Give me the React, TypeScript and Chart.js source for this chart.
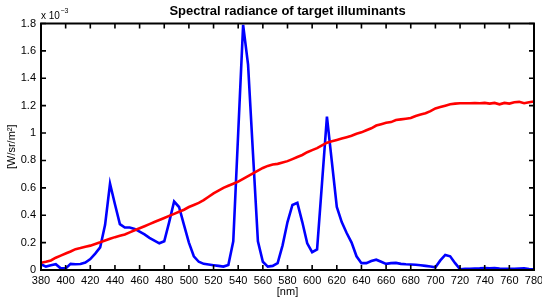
import React, { useEffect, useRef } from "react";
import { Chart, registerables } from "chart.js";

Chart.register(...registerables);

const WAVELENGTHS = [
  380, 384, 388, 392, 396, 400, 404, 408, 412, 416,
  420, 424, 428, 432, 436, 440, 444, 448, 452, 456,
  460, 464, 468, 472, 476, 480, 484, 488, 492, 496,
  500, 504, 508, 512, 516, 520, 524, 528, 532, 536,
  540, 544, 548, 552, 556, 560, 564, 568, 572, 576,
  580, 584, 588, 592, 596, 600, 604, 608, 612, 616,
  620, 624, 628, 632, 636, 640, 644, 648, 652, 656,
  660, 664, 668, 672, 676, 680, 684, 688, 692, 696,
  700, 704, 708, 712, 716, 720, 724, 728, 732, 736,
  740, 744, 748, 752, 756, 760, 764, 768, 772, 776,
  780,
];

// values in units of 1e-3 W/sr/m^2
const FLUORESCENT = [
  0.042, 0.025, 0.035, 0.042, 0.012, 0.012, 0.045, 0.042, 0.044, 0.055,
  0.08, 0.12, 0.165, 0.33, 0.63, 0.48, 0.335, 0.31, 0.31, 0.30,
  0.28, 0.26, 0.235, 0.215, 0.195, 0.21, 0.35, 0.50, 0.46, 0.33,
  0.20, 0.10, 0.06, 0.045, 0.04, 0.035, 0.03, 0.025, 0.037, 0.21,
  1.00, 1.79, 1.50, 0.85, 0.21, 0.06, 0.025, 0.03, 0.05, 0.18,
  0.35, 0.475, 0.49, 0.35, 0.195, 0.13, 0.15, 0.635, 1.12, 0.79,
  0.46, 0.35, 0.27, 0.20, 0.10, 0.05, 0.05, 0.065, 0.075, 0.06,
  0.045, 0.05, 0.052, 0.045, 0.042, 0.04, 0.038, 0.035, 0.03, 0.025,
  0.02, 0.07, 0.11, 0.10, 0.05, 0.006, 0.008, 0.008, 0.01, 0.012,
  0.015, 0.012, 0.014, 0.01, 0.008, 0.008, 0.008, 0.01, 0.012, 0.007,
  0.005,
];

const INCANDESCENT = [
  0.053, 0.06, 0.07, 0.09, 0.105, 0.12, 0.135, 0.152, 0.16, 0.17,
  0.178, 0.19, 0.202, 0.215, 0.228, 0.24, 0.25, 0.26, 0.275, 0.29,
  0.305, 0.32, 0.335, 0.35, 0.365, 0.38, 0.395, 0.41, 0.425, 0.44,
  0.46, 0.475, 0.49, 0.51, 0.535, 0.56, 0.58, 0.60, 0.615, 0.63,
  0.645, 0.665, 0.685, 0.705, 0.725, 0.745, 0.76, 0.77, 0.775, 0.785,
  0.795, 0.81, 0.825, 0.84, 0.86, 0.875, 0.89, 0.91, 0.93, 0.94,
  0.95, 0.96, 0.97, 0.98, 0.995, 1.005, 1.02, 1.035, 1.055, 1.065,
  1.075, 1.08, 1.095, 1.10, 1.105, 1.11, 1.125, 1.135, 1.145, 1.16,
  1.18, 1.19, 1.20, 1.21, 1.215, 1.218, 1.218, 1.218, 1.22, 1.218,
  1.22, 1.215, 1.22, 1.21, 1.22, 1.215, 1.225, 1.228, 1.218, 1.225,
  1.23,
];

const TITLE = "Spectral radiance of target illuminants";
const X_LABEL = "[nm]";
const Y_LABEL = "[W/sr/m\u00B2]";
const X_MIN = 380;
const X_MAX = 780;
const X_STEP = 20;
const Y_MIN = 0;
const Y_MAX = 1.8;
const Y_STEP = 0.2;

const FONT = "'Liberation Sans', Arial, Helvetica, sans-serif";

const boxPlugin = {
  id: "matlabBox",
  afterDraw(chart: any) {
    const { ctx, chartArea } = chart;
    const { left, right, top, bottom } = chartArea;
    const xs = chart.scales.x;
    const ys = chart.scales.y;
    ctx.save();
    ctx.strokeStyle = "#000";
    ctx.lineWidth = 1.6;
    ctx.beginPath();
    const tl = 5;
    xs.ticks.forEach((t: any) => {
      const px = xs.getPixelForValue(t.value);
      ctx.moveTo(px, bottom);
      ctx.lineTo(px, bottom - tl);
      ctx.moveTo(px, top);
      ctx.lineTo(px, top + tl);
    });
    ys.ticks.forEach((t: any) => {
      const py = ys.getPixelForValue(t.value);
      ctx.moveTo(left, py);
      ctx.lineTo(left + tl, py);
      ctx.moveTo(right, py);
      ctx.lineTo(right - tl, py);
    });
    ctx.stroke();
    ctx.lineWidth = 2;
    ctx.strokeRect(left, top, right - left, bottom - top);
    // title centred over the axes
    ctx.fillStyle = "#000";
    ctx.textBaseline = "alphabetic";
    ctx.textAlign = "center";
    ctx.font = `bold 13px ${FONT}`;
    ctx.fillText(TITLE, (left + right) / 2, 14.5);
    // exponent label
    ctx.textAlign = "left";
    ctx.font = `10px ${FONT}`;
    const base = "x 10";
    ctx.fillText(base, left, top - 4.5);
    const w = ctx.measureText(base).width;
    ctx.font = `7px ${FONT}`;
    ctx.fillText("\u22123", left + w + 0.5, top - 10.5);
    ctx.restore();
  },
};

export default function App() {
  const canvasRef = useRef<HTMLCanvasElement | null>(null);

  useEffect(() => {
    document.body.style.margin = "0";
    const canvas = canvasRef.current;
    if (!canvas) return;
    const chart = new Chart(canvas, {
      type: "line",
      data: {
        datasets: [
          {
            label: "incandescent",
            data: WAVELENGTHS.map((w, i) => ({ x: w, y: INCANDESCENT[i] })),
            borderColor: "#ff0000",
            borderWidth: 2.6,
            pointRadius: 0,
            tension: 0,
            fill: false,
          },
          {
            label: "fluorescent",
            data: WAVELENGTHS.map((w, i) => ({ x: w, y: FLUORESCENT[i] })),
            borderColor: "#0000ff",
            borderWidth: 2.6,
            pointRadius: 0,
            tension: 0,
            fill: false,
          },
        ],
      },
      options: {
        animation: false,
        responsive: false,
        maintainAspectRatio: false,
        layout: { padding: { left: 0, right: 8, top: 23.5, bottom: 0 } },
        plugins: {
          legend: { display: false },
          tooltip: { enabled: false },
          title: { display: false },
        },
        scales: {
          x: {
            type: "linear",
            min: X_MIN,
            max: X_MAX,
            grid: { display: false, drawTicks: false },
            border: { display: false },
            ticks: {
              stepSize: X_STEP,
              autoSkip: false,
              maxRotation: 0,
              padding: 4,
              color: "#000",
              font: { family: FONT, size: 11 },
            },
            title: {
              display: true,
              text: X_LABEL,
              color: "#000",
              font: { family: FONT, size: 11 },
              padding: { top: 0, bottom: 3 },
            },
            afterFit(scale: any) {
              scale.height = 32;
              scale.paddingLeft = 0;
              scale.paddingRight = 0;
            },
          },
          y: {
            type: "linear",
            min: Y_MIN,
            max: Y_MAX,
            grid: { display: false, drawTicks: false },
            border: { display: false },
            ticks: {
              stepSize: Y_STEP,
              padding: 5,
              color: "#000",
              font: { family: FONT, size: 11 },
              callback: (v: any) => String(Math.round(Number(v) * 10) / 10),
            },
            title: {
              display: true,
              text: Y_LABEL,
              color: "#000",
              font: { family: FONT, size: 11 },
              padding: { top: 5, bottom: 0 },
            },
            afterFit(scale: any) {
              scale.width = 41;
              scale.paddingTop = 0;
              scale.paddingBottom = 0;
            },
          },
        },
      },
      plugins: [boxPlugin],
    });
    return () => chart.destroy();
  }, []);

  return (
    <div style={{ position: "fixed", left: 0, top: 0, width: 542, height: 302, background: "#fff" }}>
      <canvas ref={canvasRef} width={542} height={302} />
    </div>
  );
}
